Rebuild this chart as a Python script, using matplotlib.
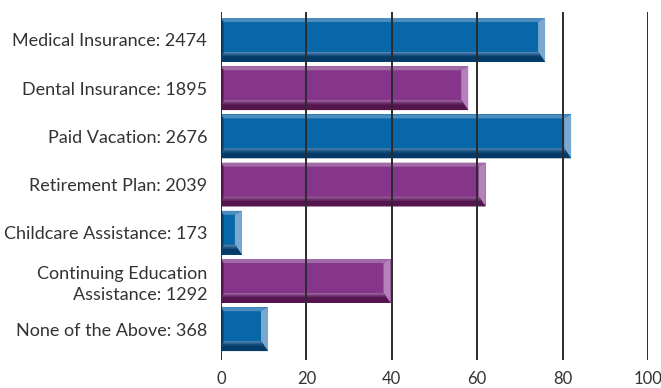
import matplotlib
matplotlib.use("Agg")
import matplotlib.pyplot as plt
from matplotlib.patches import Polygon
import numpy as np

categories = [
    "Medical Insurance: 2474",
    "Dental Insurance: 1895",
    "Paid Vacation: 2676",
    "Retirement Plan: 2039",
    "Childcare Assistance: 173",
    "Continuing Education\nAssistance: 1292",
    "None of the Above: 368",
]
percent = [75.9, 57.9, 82.0, 62.0, 4.9, 39.7, 11.0]
ticks = [0, 20, 40, 60, 80, 100]

palettes = {
    "blue": dict(face="#0767a8", top="#4d8cc0", right="#7ba8d0",
                 bot_start="#4f86b6", bot_end="#053b68", left="#0a3d6b"),
    "purple": dict(face="#85368a", top="#a36aa8", right="#b282b8",
                   bot_start="#9c63a1", bot_end="#54154f", left="#54184f"),
}
bar_colors = ["blue", "purple", "blue", "purple", "blue", "purple", "blue"]

W, H = 661, 388
fig = plt.figure(figsize=(W / 100, H / 100), dpi=100)
ax_left, ax_right, ax_top, ax_bot = 221, 648, 12, 360
ax = fig.add_axes([ax_left / W, 1 - ax_bot / H, (ax_right - ax_left) / W, (ax_bot - ax_top) / H])
ax.set_xlim(0, 100)
ax.set_ylim(6.64, -0.58)

px_x = (ax_right - ax_left) / 100.0
px_y = (ax_bot - ax_top) / (6.64 + 0.58)


def mix(c1, c2, t):
    a = np.array(matplotlib.colors.to_rgb(c1))
    b = np.array(matplotlib.colors.to_rgb(c2))
    return tuple(a + (b - a) * t)


def bevel_bar(ax, yc, value, pal, height=0.91):
    top, bot = yc - height / 2, yc + height / 2
    x0, x1 = 0.0, value
    l, r = 2.5 / px_x, 7 / px_x
    t, b = 4 / px_y, 10 / px_y
    xi0, xi1 = x0 + l, x1 - r
    yi0, yi1 = top + t, bot - b
    kw = dict(linewidth=0, zorder=2)
    # whole bar in face colour underneath, so bevel edges leave no seams
    ax.add_patch(Polygon([(x0, top), (x1, top), (x1, bot), (x0, bot)], facecolor=pal["face"], **kw))
    ax.add_patch(Polygon([(x0, top), (x1, top), (xi1, yi0), (xi0, yi0)], facecolor=pal["top"], **kw))
    ax.add_patch(Polygon([(x1, top), (x1, bot), (xi1, yi1), (xi1, yi0)], facecolor=pal["right"], **kw))
    # bottom bevel: dark band, with a short mid-tone ramp along its upper edge
    ax.add_patch(Polygon([(xi0, yi1), (xi1, yi1), (x1, bot), (x0, bot)], facecolor=pal["bot_end"], **kw))
    n = 4
    for k in range(n):
        f0, f1 = k / 10, (k + 1.4) / 10
        ya, yb = yi1 + (bot - yi1) * f0, yi1 + (bot - yi1) * f1
        xa0, xa1 = xi0 - l * f0, xi1 + r * f0
        xb0, xb1 = xi0 - l * f1, xi1 + r * f1
        col = mix(pal["bot_start"], pal["bot_end"], k / n)
        ax.add_patch(Polygon([(xa0, ya), (xa1, ya), (xb1, yb), (xb0, yb)], facecolor=col, **kw))
    ax.add_patch(Polygon([(x0, top), (xi0, yi0), (xi0, yi1), (x0, bot)], facecolor=pal["left"], **kw))


for i, (v, c) in enumerate(zip(percent, bar_colors)):
    bevel_bar(ax, i, v, palettes[c])

for x in ticks:
    ax.axvline(x, color="#2b2b2b", linewidth=1.4, zorder=3)

for s in ax.spines.values():
    s.set_visible(False)

font = ["Lato", "DejaVu Sans"]
ax.set_xticks(ticks)
ax.set_xticklabels([str(t) for t in ticks], fontsize=12, color="#333333", family=font)
ax.tick_params(axis="x", length=0, pad=8)
ax.set_yticks(range(len(categories)))
ax.set_yticklabels(categories, fontsize=13, color="#333333", family=font,
                   ha="right", multialignment="right", linespacing=1.35)
ax.tick_params(axis="y", length=0, pad=10)

fig.savefig("out.png", dpi=100)
